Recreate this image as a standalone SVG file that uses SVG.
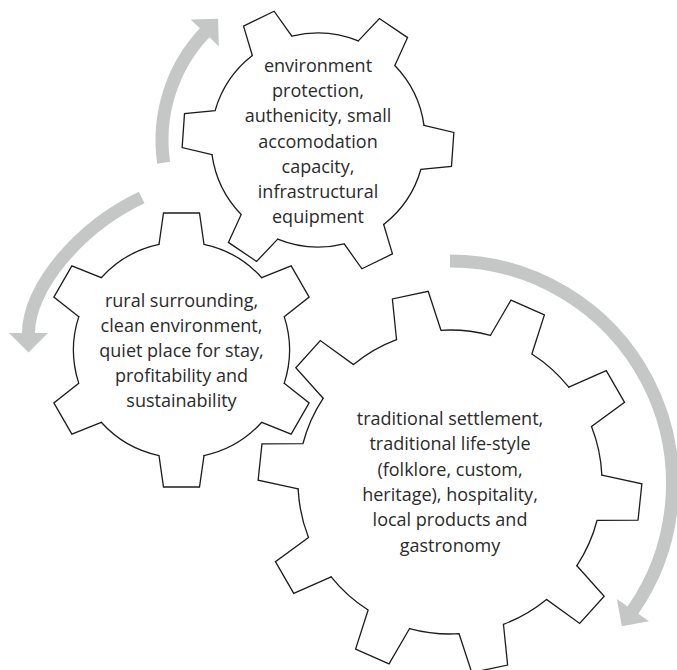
<svg xmlns="http://www.w3.org/2000/svg" width="677" height="670" viewBox="0 0 677 670">
  <style>
    .gear use { fill: none; stroke: #1c1c1c; stroke-width: 1.3; stroke-linecap: round; stroke-linejoin: miter; }
    .label { font-family: "Open Sans", "Noto Sans", "Liberation Sans", sans-serif; font-size: 18px; fill: #2b2b2b; text-anchor: middle; }
    .flow { fill: none; stroke: #c5c7c7; stroke-width: 13; stroke-linecap: butt; marker-end: url(#head); }
  </style>
  <defs>
    <!-- arrowhead for the rotation arrows -->
    <marker id="head" markerUnits="userSpaceOnUse" viewBox="-2 -21 24 42" markerWidth="24" markerHeight="42" refX="0" refY="0" orient="auto">
      <path d="M-2,-6.5 L0,-6.5 L0,-19.5 L19.5,0 L0,19.5 L0,6.5 L-2,6.5 Z" fill="#c5c7c7"/>
    </marker>
    <!-- one tooth plus the rim arc up to the next tooth, gear centred on the origin -->
    <path id="toothTop" d="M104.71,-22 L135,-17 L135,17 L104.71,22 A107,107 0 0 1 71.41,79.68"/>
    <path id="toothLeft" d="M105.63,-22.5 L137,-18 L137,18 L105.63,22.5 A108,108 0 0 1 72.30,80.23"/>
    <path id="toothRight" d="M150.29,-22.7 L191,-18.3 L191,18.3 L150.29,22.7 A152,152 0 0 1 134.94,69.98"/>
  </defs>

  <!-- rotation arrows -->
  <g id="connectors">
    <path class="flow" d="M163.67,162.79 A156,156 0 0 1 204.65,32.81"/>
    <path class="flow" d="M141.7,197.5 C78.5,227.5 28.5,288 28.5,333"/>
    <path class="flow" d="M450,261 A222.5,222.5 0 0 1 632.93,610.16"/>
  </g>

  <g id="gear-top">
    <g class="gear" transform="translate(318,140)">
      <use href="#toothTop" transform="rotate(4)"/>
      <use href="#toothTop" transform="rotate(64)"/>
      <use href="#toothTop" transform="rotate(124)"/>
      <use href="#toothTop" transform="rotate(184)"/>
      <use href="#toothTop" transform="rotate(244)"/>
      <use href="#toothTop" transform="rotate(304)"/>
    </g>
    <text class="label" x="318" y="72">environment</text>
    <text class="label" x="318" y="97.2">protection,</text>
    <text class="label" x="318" y="122.4">authenicity, small</text>
    <text class="label" x="318" y="147.6">accomodation</text>
    <text class="label" x="318" y="172.8">capacity,</text>
    <text class="label" x="318" y="198">infrastructural</text>
    <text class="label" x="318" y="223.2">equipment</text>
  </g>

  <g id="gear-left">
    <g class="gear" transform="translate(181.5,350)">
      <use href="#toothLeft" transform="rotate(-90)"/>
      <use href="#toothLeft" transform="rotate(-30)"/>
      <use href="#toothLeft" transform="rotate(30)"/>
      <use href="#toothLeft" transform="rotate(90)"/>
      <use href="#toothLeft" transform="rotate(150)"/>
      <use href="#toothLeft" transform="rotate(210)"/>
    </g>
    <text class="label" x="181.5" y="306.7">rural surrounding,</text>
    <text class="label" x="181.5" y="331.7">clean environment,</text>
    <text class="label" x="181.5" y="356.7">quiet place for stay,</text>
    <text class="label" x="181.5" y="381.7">profitability and</text>
    <text class="label" x="181.5" y="406.7">sustainability</text>
  </g>

  <g id="gear-right">
    <g class="gear" transform="translate(450,482)">
      <use href="#toothRight" transform="rotate(6)"/>
      <use href="#toothRight" transform="rotate(42)"/>
      <use href="#toothRight" transform="rotate(78)"/>
      <use href="#toothRight" transform="rotate(114)"/>
      <use href="#toothRight" transform="rotate(150)"/>
      <use href="#toothRight" transform="rotate(186)"/>
      <use href="#toothRight" transform="rotate(222)"/>
      <use href="#toothRight" transform="rotate(258)"/>
      <use href="#toothRight" transform="rotate(294)"/>
      <use href="#toothRight" transform="rotate(330)"/>
    </g>
    <text class="label" x="450" y="425">traditional settlement,</text>
    <text class="label" x="450" y="450.3">traditional life-style</text>
    <text class="label" x="450" y="475.6">(folklore, custom,</text>
    <text class="label" x="450" y="500.9">heritage), hospitality,</text>
    <text class="label" x="450" y="526.2">local products and</text>
    <text class="label" x="450" y="551.5">gastronomy</text>
  </g>
</svg>
